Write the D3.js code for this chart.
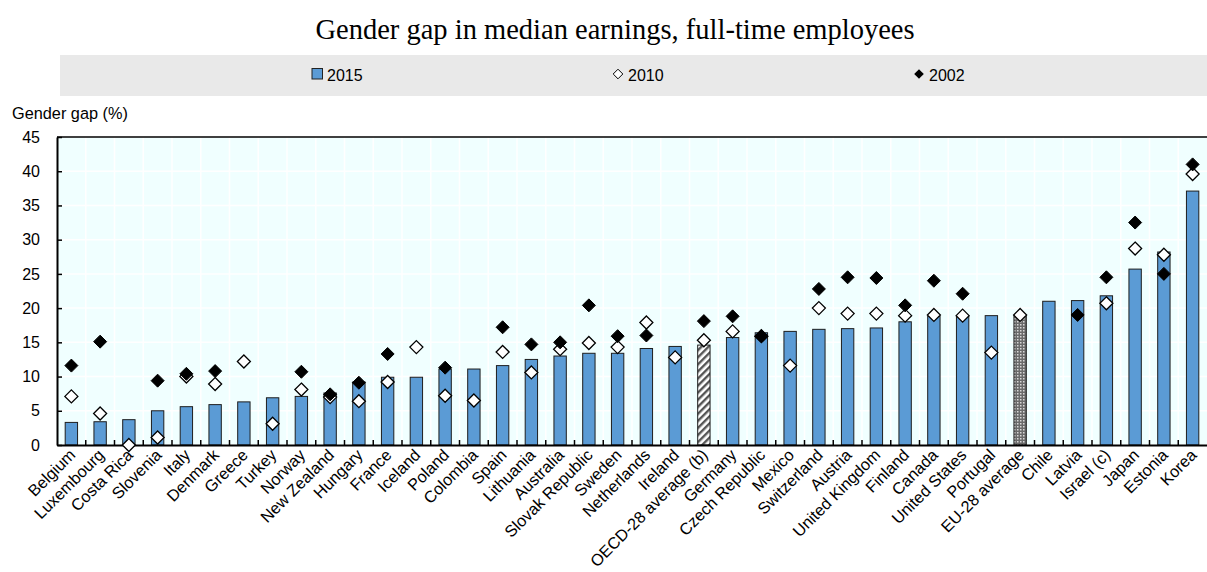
<!DOCTYPE html>
<html><head><meta charset="utf-8">
<script src="https://cdn.jsdelivr.net/npm/d3@7"></script>
<style>body{margin:0;background:#fff}svg{display:block}</style>
</head><body><svg id="chart" width="1207" height="572"></svg>
<script>
// Gender gap in median earnings of full-time employees, by country
const countries = ["Belgium","Luxembourg","Costa Rica","Slovenia","Italy","Denmark","Greece","Turkey","Norway","New Zealand","Hungary","France","Iceland","Poland","Colombia","Spain","Lithuania","Australia","Slovak Republic","Sweden","Netherlands","Ireland","OECD-28 average (b)","Germany","Czech Republic","Mexico","Switzerland","Austria","United Kingdom","Finland","Canada","United States","Portugal","EU-28 average","Chile","Latvia","Israel (c)","Japan","Estonia","Korea"];
const gap2015 = [3.3,3.4,3.7,5.0,5.6,5.9,6.3,6.9,7.1,7.6,9.2,9.9,9.9,11.1,11.1,11.6,12.5,13.0,13.4,13.4,14.1,14.4,14.6,15.7,16.4,16.6,16.9,17.0,17.1,18.0,18.8,18.8,18.9,18.9,21.0,21.1,21.8,25.7,28.2,37.1];
const gap2010 = [7.1,4.6,0.0,1.1,10.0,8.9,12.2,3.1,8.1,7.0,6.4,9.2,14.3,7.2,6.5,13.6,10.6,14.0,14.9,14.3,17.9,12.8,15.3,16.6,15.9,11.6,20.0,19.2,19.2,18.9,19.0,18.9,13.5,19.0,null,null,20.7,28.7,27.8,39.6];
const gap2002 = [11.6,15.1,null,9.4,10.4,10.8,null,null,10.7,7.4,9.1,13.3,null,11.3,null,17.2,14.7,15.0,20.4,15.9,16.0,null,18.1,18.8,15.9,null,22.8,24.5,24.4,20.4,24.0,22.1,null,null,null,19.0,24.5,32.5,25.0,41.0];
const yTicks = [0,5,10,15,20,25,30,35,40,45];
const legendLabels = ["2015","2010","2002"];
// Aggregates get a patterned fill instead of the plain blue
const aggregateFill = {"OECD-28 average (b)":"url(#stripes)","EU-28 average":"url(#dots)"};

const BLUE = "#5b9bd5";
const SANS = "'Liberation Sans',Arial,sans-serif";
const svg = d3.select("#chart");
const plotLeft = 57, plotRight = 1207, plotTop = 137, plotBottom = 445;

const defs = svg.append("defs");
const stripes = defs.append("pattern").attr("id","stripes")
  .attr("patternUnits","userSpaceOnUse").attr("width",5).attr("height",5)
  .attr("patternTransform","rotate(45)");
stripes.append("rect").attr("width",5).attr("height",5).attr("fill","#fff");
stripes.append("rect").attr("width",2.4).attr("height",5).attr("fill","#555");
const dots = defs.append("pattern").attr("id","dots")
  .attr("patternUnits","userSpaceOnUse").attr("width",3).attr("height",3);
dots.append("rect").attr("width",3).attr("height",3).attr("fill","#6a6a6a");
dots.append("rect").attr("width",1.5).attr("height",1.5).attr("fill","#d8d8d8");

const x = d3.scaleBand().domain(countries).range([plotLeft,plotRight]).paddingInner(0).paddingOuter(0);
const y = d3.scaleLinear().domain([0,45]).range([plotBottom,plotTop]);
const bw = x.bandwidth();
const barW = bw*0.43;

// Title
svg.append("text").attr("x",615).attr("y",39).attr("text-anchor","middle")
  .attr("font-family","'Liberation Serif','Times New Roman',serif").attr("font-size",28.5)
  .attr("fill","#000").text("Gender gap in median earnings, full-time employees");

// Legend band
svg.append("rect").attr("x",60).attr("y",55).attr("width",1147).attr("height",41).attr("fill","#e9e9e9");
const diamond = h => `M0,${-h}L${h},0L0,${h}L${-h},0Z`;
const lg = svg.append("g").attr("font-family",SANS).attr("font-size",16);
const legendX = [312, 613, 914];
lg.append("rect").attr("x",legendX[0]).attr("y",68.5).attr("width",10.5).attr("height",10.5)
  .attr("fill",BLUE).attr("stroke","#222").attr("stroke-width",1);
lg.append("path").attr("d",diamond(4.8)).attr("transform",`translate(${legendX[1]+5},74)`)
  .attr("fill","#fff").attr("stroke","#000").attr("stroke-width",1);
lg.append("path").attr("d",diamond(4.8)).attr("transform",`translate(${legendX[2]+5},74)`)
  .attr("fill","#000");
legendLabels.forEach((t,i)=>{
  lg.append("text").attr("x",legendX[i]+15).attr("y",81).text(t);
});

// Y axis title
svg.append("text").attr("x",12).attr("y",119)
  .attr("font-family",SANS).attr("font-size",16.3)
  .text("Gender gap (%)");

// Plot background and grid
svg.append("rect").attr("x",plotLeft).attr("y",plotTop).attr("width",plotRight-plotLeft).attr("height",plotBottom-plotTop).attr("fill","#f0ffff");
const grid = svg.append("g").attr("stroke","#fff").attr("stroke-width",1.5);
grid.selectAll(".h").data(yTicks).join("line")
  .attr("x1",plotLeft).attr("x2",plotRight).attr("y1",d=>y(d)).attr("y2",d=>y(d));
grid.selectAll(".v").data(countries.slice(1)).join("line")
  .attr("x1",d=>x(d)).attr("x2",d=>x(d)).attr("y1",plotTop).attr("y2",plotBottom);

// Bars for 2015
svg.append("g").selectAll("rect").data(countries).join("rect")
  .attr("x",d=>x(d)+(bw-barW)/2)
  .attr("y",(d,i)=>y(gap2015[i]))
  .attr("width",barW)
  .attr("height",(d,i)=>y(0)-y(gap2015[i]))
  .attr("fill",d=>aggregateFill[d]||BLUE)
  .attr("stroke","#1e1e1e").attr("stroke-width",1);

// Axes
const yAxis = svg.append("g").attr("transform",`translate(${plotLeft},0)`)
  .call(d3.axisLeft(y).tickValues(yTicks).tickSizeInner(-5).tickSizeOuter(0).tickPadding(17));
yAxis.select(".domain").attr("stroke","#000").attr("stroke-width",2);
yAxis.selectAll(".tick line").attr("stroke","#000").attr("stroke-width",1.5);
yAxis.selectAll("text").attr("font-family",SANS).attr("font-size",16).attr("fill","#000");

svg.append("line").attr("x1",plotLeft).attr("x2",plotRight).attr("y1",plotTop).attr("y2",plotTop)
  .attr("stroke","#000").attr("stroke-width",1.5);

const xAxis = svg.append("g").attr("transform",`translate(0,${plotBottom})`)
  .call(d3.axisBottom(x).tickSize(0).tickFormat(""));
xAxis.select(".domain").attr("stroke","#000").attr("stroke-width",2.2);
svg.append("g").selectAll("line").data(countries.slice(1)).join("line")
  .attr("x1",d=>x(d)).attr("x2",d=>x(d)).attr("y1",plotBottom).attr("y2",plotBottom-5)
  .attr("stroke","#000").attr("stroke-width",1.5);

// Category labels
svg.append("g").selectAll("text").data(countries).join("text")
  .attr("transform",d=>`translate(${x(d)+bw/2+5},${plotBottom+11}) rotate(-45)`)
  .attr("text-anchor","end")
  .attr("font-family",SANS).attr("font-size",16.3)
  .attr("fill","#000").text(d=>d);

// 2010 and 2002 markers
svg.append("g").selectAll("path").data(countries.filter((d,i)=>gap2010[i]!==null)).join("path")
  .attr("d",diamond(6.5))
  .attr("transform",d=>`translate(${x(d)+bw/2},${y(gap2010[countries.indexOf(d)])})`)
  .attr("fill","#fff").attr("stroke","#000").attr("stroke-width",1.3);
svg.append("g").selectAll("path").data(countries.filter((d,i)=>gap2002[i]!==null)).join("path")
  .attr("d",diamond(6.5))
  .attr("transform",d=>`translate(${x(d)+bw/2},${y(gap2002[countries.indexOf(d)])})`)
  .attr("fill","#000").attr("stroke","#000").attr("stroke-width",1);
</script></body></html>
